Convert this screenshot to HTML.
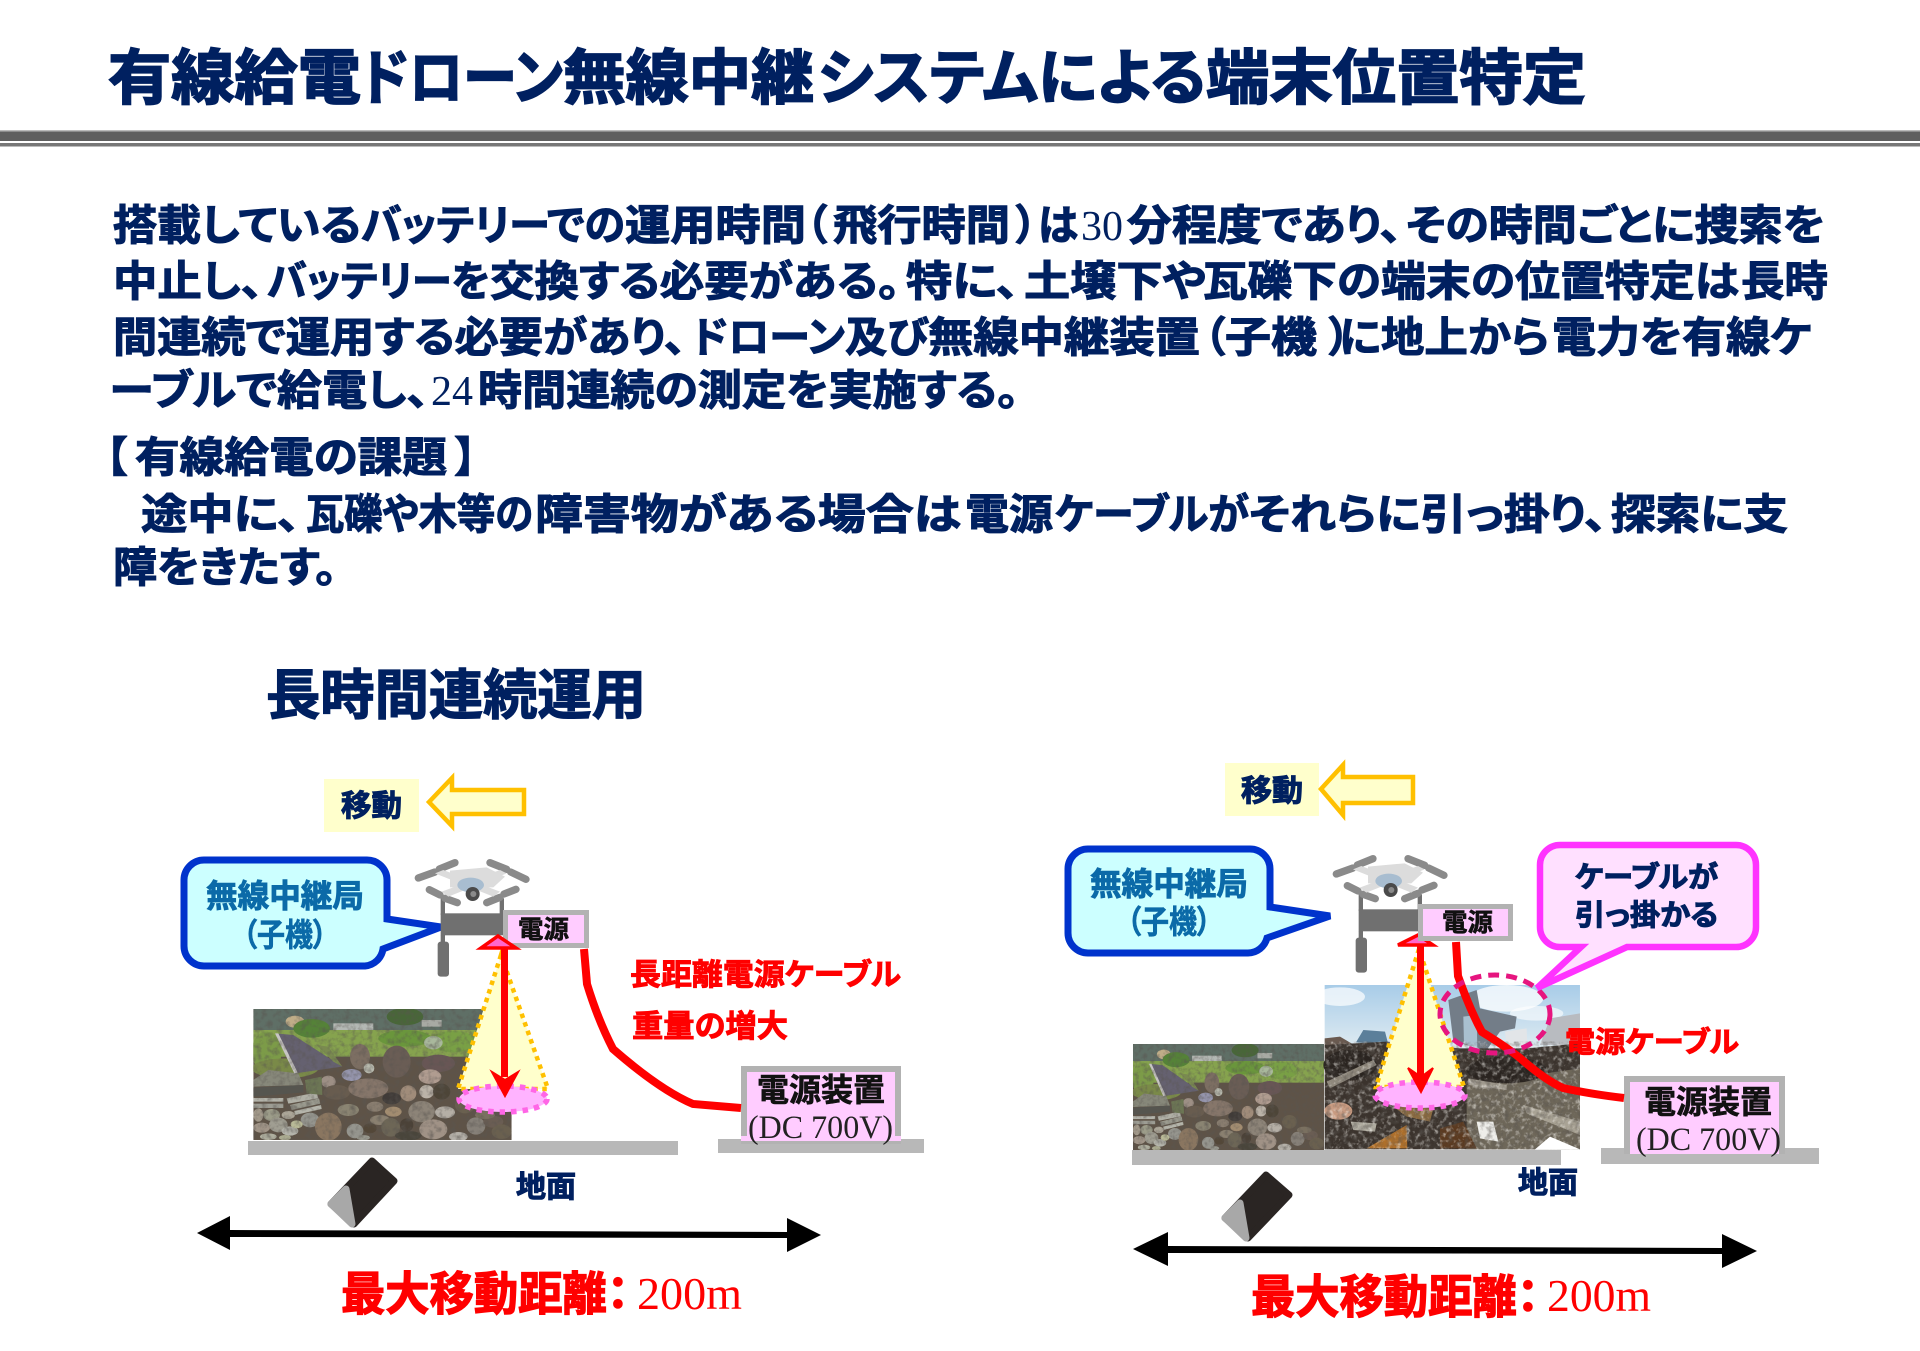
<!DOCTYPE html>
<html lang="ja">
<head>
<meta charset="utf-8">
<title>有線給電ドローン無線中継システムによる端末位置特定</title>
<style>
html,body{margin:0;padding:0;background:#fff;}
svg{display:block;}
text{font-family:"Liberation Sans","Noto Sans CJK JP",sans-serif;font-weight:700;font-feature-settings:"palt";}
.n{fill:#002060;stroke:#002060;stroke-width:1.1;}
.t{font-size:60px;stroke-width:1.7;}
.b{font-size:42px;}
.r{fill:#f00;stroke:#f00;stroke-width:.9;}
.k{fill:#111;stroke:#111;stroke-width:.6;}
.s{font-family:"Liberation Serif",serif;font-weight:400;stroke:none;}
</style>
</head>
<body>
<svg xmlns="http://www.w3.org/2000/svg" width="1920" height="1351" viewBox="0 0 1920 1351">
<defs>
<filter id="tex" x="0" y="0" width="1" height="1"><feTurbulence type="fractalNoise" baseFrequency=".06" numOctaves="3" seed="4"/><feColorMatrix values="0 0 0 0 .1 0 0 0 0 .09 0 0 0 0 .08 1.3 0 0 0 -.55"/></filter>
<filter id="tex2" x="0" y="0" width="1" height="1"><feTurbulence type="fractalNoise" baseFrequency=".07" numOctaves="3" seed="9"/><feColorMatrix values="0 0 0 0 .9 0 0 0 0 .88 0 0 0 0 .84 1.8 0 0 0 -.9"/></filter>
<filter id="b1" x="-5%" y="-5%" width="110%" height="110%"><feGaussianBlur stdDeviation="1"/></filter>
<linearGradient id="sky" x1="0" y1="0" x2="0" y2="1"><stop offset="0" stop-color="#a8cce8"/><stop offset="1" stop-color="#e2edf2"/></linearGradient>
<clipPath id="cs"><rect x="25" y="12" width="775" height="393"/></clipPath>

<g id="stones" clip-path="url(#cs)">
 <rect x="25" y="12" width="775" height="393" fill="#5e5347"/>
 <rect x="25" y="12" width="775" height="70" fill="#5f6f66"/>
 <ellipse cx="150" cy="50" rx="28" ry="18" fill="#c0ad88"/>
 <rect x="265" y="55" width="120" height="22" fill="#b4b8b4"/>
 <rect x="530" y="45" width="60" height="20" fill="#a8aaa4"/>
 <ellipse cx="480" cy="35" rx="55" ry="26" fill="#486638"/>
 <rect x="25" y="75" width="775" height="80" fill="#86a34e"/>
 <ellipse cx="65" cy="140" rx="45" ry="60" fill="#7c9b48"/>
 <ellipse cx="200" cy="70" rx="55" ry="28" fill="#558238"/>
 <ellipse cx="480" cy="100" rx="80" ry="25" fill="#6a963c"/>
 <ellipse cx="625" cy="110" rx="70" ry="32" fill="#79a045"/>
 <ellipse cx="565" cy="113" rx="28" ry="20" fill="#a9b89c"/>
 <ellipse cx="120" cy="190" rx="100" ry="30" fill="#7a8a48"/>
 <g filter="url(#b1)">
 <ellipse cx="345" cy="155" rx="30" ry="38" fill="#7c6e62"/><ellipse cx="455" cy="170" rx="42" ry="48" fill="#6a5d55"/><ellipse cx="580" cy="175" rx="50" ry="26" fill="#685755"/><ellipse cx="372" cy="190" rx="16" ry="15" fill="#b8baae"/><ellipse cx="320" cy="210" rx="30" ry="18" fill="#9696ae"/><ellipse cx="250" cy="230" rx="22" ry="18" fill="#9d8f85"/><ellipse cx="275" cy="262" rx="40" ry="22" fill="#685c50"/><ellipse cx="370" cy="250" rx="60" ry="30" fill="#86766a"/><ellipse cx="440" cy="280" rx="28" ry="18" fill="#3f3a38"/><ellipse cx="490" cy="265" rx="24" ry="24" fill="#a08c7a"/><ellipse cx="555" cy="215" rx="34" ry="22" fill="#b09c90"/><ellipse cx="545" cy="260" rx="22" ry="20" fill="#bbb3a8"/><ellipse cx="590" cy="260" rx="26" ry="24" fill="#4d4438"/><ellipse cx="310" cy="315" rx="32" ry="18" fill="#8a8472"/><ellipse cx="390" cy="305" rx="25" ry="15" fill="#8a7e70"/><ellipse cx="445" cy="320" rx="25" ry="15" fill="#a28c70"/><ellipse cx="530" cy="320" rx="40" ry="32" fill="#8d8478"/><ellipse cx="600" cy="322" rx="30" ry="18" fill="#b5afa6"/><ellipse cx="405" cy="345" rx="30" ry="15" fill="#8a8070"/><ellipse cx="195" cy="345" rx="28" ry="22" fill="#95958e"/><ellipse cx="130" cy="330" rx="20" ry="12" fill="#aca698"/><ellipse cx="80" cy="330" rx="25" ry="18" fill="#9d9d8a"/><ellipse cx="40" cy="330" rx="15" ry="20" fill="#a2998a"/><ellipse cx="100" cy="360" rx="28" ry="22" fill="#a09e92"/><ellipse cx="50" cy="368" rx="25" ry="15" fill="#a19588"/><ellipse cx="135" cy="378" rx="25" ry="14" fill="#b4b4ab"/><ellipse cx="155" cy="358" rx="18" ry="12" fill="#babb98"/><ellipse cx="250" cy="365" rx="40" ry="42" fill="#8a7660"/><ellipse cx="330" cy="378" rx="25" ry="22" fill="#95958e"/><ellipse cx="375" cy="370" rx="20" ry="15" fill="#524638"/><ellipse cx="437" cy="367" rx="28" ry="28" fill="#6d6656"/><ellipse cx="485" cy="360" rx="20" ry="20" fill="#4c4238"/><ellipse cx="565" cy="373" rx="42" ry="30" fill="#a09286"/><ellipse cx="693" cy="363" rx="28" ry="26" fill="#868078"/><ellipse cx="640" cy="395" rx="28" ry="14" fill="#b4b0a8"/><ellipse cx="490" cy="392" rx="40" ry="14" fill="#4a443a"/><ellipse cx="745" cy="350" rx="30" ry="18" fill="#6a5d52"/><ellipse cx="660" cy="300" rx="30" ry="25" fill="#6a6050"/><ellipse cx="720" cy="330" rx="30" ry="12" fill="#7a7060"/><ellipse cx="770" cy="380" rx="30" ry="22" fill="#6a6050"/><ellipse cx="70" cy="395" rx="25" ry="10" fill="#b0b0a0"/><ellipse cx="120" cy="398" rx="18" ry="8" fill="#aaaa90"/><ellipse cx="355" cy="398" rx="20" ry="8" fill="#9a9a90"/>
 </g>
 <polygon points="25,225 70,195 160,205 175,240 25,245" fill="#87887a"/>
 <polygon points="25,248 175,240 175,262 25,275" fill="#55554f"/>
 <rect x="25" y="279" width="90" height="11" fill="#b3b3aa"/><rect x="25" y="296" width="90" height="13" fill="#9d9d94"/>
 <polygon points="125,280 215,262 220,280 130,296" fill="#b0b0a6"/><polygon points="135,300 222,280 226,296 140,315" fill="#9c9c90"/><polygon points="148,318 228,300 230,312 150,330" fill="#b5b5ab"/>
 <polygon points="180,225 230,215 232,270 185,265" fill="#6c7654"/>
 <polygon points="90,85 145,90 292,185 150,205" fill="#656170"/>
 <polygon points="90,85 100,85 158,203 148,205" fill="#c8c6c4"/>
 <polygon points="215,120 250,125 292,185 265,170" fill="#7a8a50"/>
 <rect x="25" y="12" width="775" height="393" filter="url(#tex)"/>
</g>

<g id="drone">
 <g fill="#707070">
  <rect x="122" y="190" width="190" height="66"/>
  <rect x="122" y="145" width="13" height="50"/><rect x="299" y="145" width="13" height="50"/>
  <rect x="122" y="255" width="13" height="22"/>
  <rect x="113" y="275" width="34" height="105" rx="9"/>
 </g>
 <g stroke="#8a8a8a" stroke-linecap="round" fill="none" stroke-width="22">
  <path d="M55 84L105 66"/><path d="M118 57L165 38"/>
  <path d="M270 38L320 58"/><path d="M332 66L378 88"/>
  <path d="M88 119L120 135"/><path d="M135 145L172 158"/>
  <path d="M260 158L300 142"/><path d="M312 132L348 118"/>
 </g>
 <g fill="#dcdcdc">
  <polygon points="105,70 130,60 300,125 280,140"/>
  <polygon points="320,70 300,60 125,125 145,140"/>
  <polygon points="150,62 260,52 315,80 280,112 150,112"/>
 </g>
 <ellipse cx="212" cy="105" rx="40" ry="22" fill="#a8bdd0"/>
 <circle cx="218" cy="132" r="21" fill="#4a4a4a"/><circle cx="220" cy="132" r="9" fill="#8a8a8a"/>
</g>
</defs>

<!-- title -->
<text class="n t" x="108" y="99" textLength="253" lengthAdjust="spacingAndGlyphs">有線給電</text>
<text class="n t" x="361" y="99" textLength="202" lengthAdjust="spacingAndGlyphs">ドローン</text>
<text class="n t" x="563" y="99" textLength="251" lengthAdjust="spacingAndGlyphs">無線中継</text>
<text class="n t" x="818" y="99" textLength="220" lengthAdjust="spacingAndGlyphs">システム</text>
<text class="n t" x="1038" y="99" textLength="168" lengthAdjust="spacingAndGlyphs">による</text>
<text class="n t" x="1206" y="99" textLength="380" lengthAdjust="spacingAndGlyphs">端末位置特定</text>
<rect x="0" y="131" width="1920" height="10" fill="#5f5f5f"/>
<rect x="0" y="130" width="1920" height="1.5" fill="#bbb"/>
<rect x="0" y="143" width="1920" height="3.5" fill="#777"/>

<!-- body L1 -->
<g class="n b">
<text class="n b" x="113" y="240" textLength="248" lengthAdjust="spacingAndGlyphs">搭載している</text>
<text class="n b" x="361" y="240" textLength="264" lengthAdjust="spacingAndGlyphs">バッテリーでの</text>
<text class="n b" x="625" y="240" textLength="181" lengthAdjust="spacingAndGlyphs">運用時間</text>
<text class="n b" x="806" y="240">（</text>
<text class="n b" x="833" y="240" textLength="177" lengthAdjust="spacingAndGlyphs">飛行時間</text>
<text class="n b" x="1016" y="240">）</text>
<text class="n b" x="1038" y="240" textLength="40" lengthAdjust="spacingAndGlyphs">は</text>
<text class="s" x="1081" y="240" font-size="42" fill="#002060">30</text>
<text class="n b" x="1127" y="240" textLength="275" lengthAdjust="spacingAndGlyphs">分程度であり、</text>
<text class="n b" x="1406" y="240" textLength="419" lengthAdjust="spacingAndGlyphs">その時間ごとに捜索を</text>
<!-- L2 -->
<text class="n b" x="113" y="296" textLength="150" lengthAdjust="spacingAndGlyphs">中止し、</text>
<text class="n b" x="267" y="296" textLength="223" lengthAdjust="spacingAndGlyphs">バッテリーを</text>
<text class="n b" x="490" y="296" textLength="410" lengthAdjust="spacingAndGlyphs">交換する必要がある。</text>
<text class="n b" x="906" y="296" textLength="113" lengthAdjust="spacingAndGlyphs">特に、</text>
<text class="n b" x="1024" y="296" textLength="182" lengthAdjust="spacingAndGlyphs">土壌下や</text>
<text class="n b" x="1203" y="296" textLength="178" lengthAdjust="spacingAndGlyphs">瓦礫下の</text>
<text class="n b" x="1381" y="296" textLength="358" lengthAdjust="spacingAndGlyphs">端末の位置特定は</text>
<text class="n b" x="1741" y="296" textLength="87" lengthAdjust="spacingAndGlyphs">長時</text>
<!-- L3 -->
<text class="n b" x="113" y="352" textLength="573" lengthAdjust="spacingAndGlyphs">間連続で運用する必要があり、</text>
<text class="n b" x="692" y="352" textLength="153" lengthAdjust="spacingAndGlyphs">ドローン</text>
<text class="n b" x="845" y="352" textLength="83" lengthAdjust="spacingAndGlyphs">及び</text>
<text class="n b" x="928" y="352" textLength="272" lengthAdjust="spacingAndGlyphs">無線中継装置</text>
<text class="n b" x="1204" y="352">（</text>
<text class="n b" x="1225" y="352" textLength="92" lengthAdjust="spacingAndGlyphs">子機</text>
<text class="n b" x="1329" y="352">）</text>
<text class="n b" x="1339" y="352" textLength="210" lengthAdjust="spacingAndGlyphs">に地上から</text>
<text class="n b" x="1552" y="352" textLength="260" lengthAdjust="spacingAndGlyphs">電力を有線ケ</text>
<!-- L4 -->
<text class="n b" x="110" y="405" textLength="319" lengthAdjust="spacingAndGlyphs">ーブルで給電し、</text>
<text class="s" x="431" y="405" font-size="42" fill="#002060">24</text>
<text class="n b" x="478" y="405" textLength="541" lengthAdjust="spacingAndGlyphs">時間連続の測定を実施する。</text>
<!-- H -->
<text class="n b" x="106" y="472">【</text>
<text class="n b" x="135" y="472" textLength="312" lengthAdjust="spacingAndGlyphs">有線給電の課題</text>
<text class="n b" x="455" y="472">】</text>
<!-- L5 -->
<text class="n b" x="141" y="529" textLength="159" lengthAdjust="spacingAndGlyphs">途中に、</text>
<text class="n b" x="306" y="529" textLength="227" lengthAdjust="spacingAndGlyphs">瓦礫や木等の</text>
<text class="n b" x="535" y="529" textLength="426" lengthAdjust="spacingAndGlyphs">障害物がある場合は</text>
<text class="n b" x="965" y="529" textLength="88" lengthAdjust="spacingAndGlyphs">電源</text>
<text class="n b" x="1055" y="529" textLength="194" lengthAdjust="spacingAndGlyphs">ケーブルが</text>
<text class="n b" x="1249" y="529" textLength="358" lengthAdjust="spacingAndGlyphs">それらに引っ掛り、</text>
<text class="n b" x="1611" y="529" textLength="177" lengthAdjust="spacingAndGlyphs">探索に支</text>
<!-- L6 -->
<text class="n b" x="113" y="582" textLength="224" lengthAdjust="spacingAndGlyphs">障をきたす。</text>
</g>
<text class="n" x="266" y="714" font-size="54" textLength="380" lengthAdjust="spacingAndGlyphs" style="stroke-width:1.3">長時間連続運用</text>

<!-- ========= LEFT ========= -->
<rect x="324" y="779" width="95" height="53" fill="#ffffcc"/>
<text class="n" x="341" y="816" font-size="30" textLength="61" lengthAdjust="spacingAndGlyphs">移動</text>
<polygon points="429,802 452,778 452,790 524,790 524,814 452,814 452,826" fill="#ffffcc" stroke="#ffc000" stroke-width="4.5"/>

<path d="M204 860H367A20 20 0 0 1 387 880V919L441 927L383 949A20 20 0 0 1 365 966H204A20 20 0 0 1 184 946V880A20 20 0 0 1 204 860Z" fill="#ccffff" stroke="#0033cc" stroke-width="7"/>
<text x="206" y="907" font-size="32" textLength="158" lengthAdjust="spacingAndGlyphs" fill="#0b6aa8" stroke="#0b6aa8" stroke-width=".9">無線中継局</text>
<text x="243" y="946" font-size="32" textLength="84" lengthAdjust="spacingAndGlyphs" fill="#0b6aa8" stroke="#0b6aa8" stroke-width=".6">（子機）</text>

<use href="#drone" transform="translate(400,850) scale(.3333)"/>
<rect x="505.5" y="912.5" width="81" height="33" fill="#ffccff" stroke="#b2b2b2" stroke-width="5"/>
<text class="k" x="518" y="938" font-size="25" textLength="51" lengthAdjust="spacingAndGlyphs">電源</text>

<use href="#stones" transform="translate(245,1005) scale(.3333)"/>
<polygon points="501,955 458,1089 548,1089" fill="#ffffcc" stroke="#ffc000" stroke-width="4.5" stroke-dasharray="4.5 4.5"/>
<ellipse cx="503" cy="1099" rx="44" ry="13" fill="#ffb3ff" stroke="#ff66e6" stroke-width="5.5" stroke-dasharray="5.5 6"/>
<rect x="501" y="949" width="7" height="128" fill="#f00"/>
<polygon points="492,1072 505,1080 518,1072 505,1096" fill="#f00" stroke="#f00" stroke-width="2"/>
<polygon points="481,948 516,948 498,936" fill="#ff66cc" stroke="#f00" stroke-width="3.5"/>

<rect x="248" y="1141" width="430" height="14" fill="#b8b8b8"/>
<rect x="718" y="1139" width="206" height="14" fill="#b8b8b8"/>
<rect x="744" y="1069" width="154" height="72" fill="#ffccff" stroke="#b2b2b2" stroke-width="6"/>
<rect x="741" y="1136" width="160" height="5" fill="#ffccff"/>
<text class="k" x="757" y="1101" font-size="32" textLength="128" lengthAdjust="spacingAndGlyphs">電源装置</text>
<text class="s" x="748" y="1138" font-size="33" textLength="145" lengthAdjust="spacingAndGlyphs" fill="#222">(DC 700V)</text>
<path d="M584 949L587 984Q598 1020 613 1049Q660 1090 693 1104L741 1108" fill="none" stroke="#f00" stroke-width="8"/>
<text class="r" x="630" y="985" font-size="30" textLength="271" lengthAdjust="spacingAndGlyphs">長距離電源ケーブル</text>
<text class="r" x="632" y="1037" font-size="31" textLength="156" lengthAdjust="spacingAndGlyphs">重量の増大</text>

<polygon points="372,1161 394,1181 354,1224 331,1204" fill="#2a2523" stroke="#2a2523" stroke-width="7" stroke-linejoin="round"/>
<polygon points="346,1189 352,1224 331,1204" fill="#a8a8a8" stroke="#a8a8a8" stroke-width="7" stroke-linejoin="round"/>
<text class="n" x="516" y="1197" font-size="30" textLength="60" lengthAdjust="spacingAndGlyphs">地面</text>

<polygon points="197,1233 230,1216 230,1230 787,1232 787,1218 821,1235 787,1252 787,1238 230,1237 230,1250" fill="#000"/>
<text class="r" x="341" y="1310" font-size="46" textLength="288" lengthAdjust="spacingAndGlyphs" style="stroke-width:1.3">最大移動距離：</text>
<text class="s" x="637" y="1309" font-size="46" fill="#f00" textLength="105" lengthAdjust="spacingAndGlyphs">200m</text>

<!-- ========= RIGHT ========= -->
<rect x="1225" y="763" width="94" height="53" fill="#ffffcc"/>
<text class="n" x="1241" y="801" font-size="30" textLength="62" lengthAdjust="spacingAndGlyphs">移動</text>
<polygon points="1321,789 1343,765 1343,777 1413,777 1413,803 1343,803 1343,815" fill="#ffffcc" stroke="#ffc000" stroke-width="4.5"/>

<path d="M1088 849H1250A20 20 0 0 1 1270 869V907L1330 916L1267 938A20 20 0 0 1 1248 953H1088A20 20 0 0 1 1068 933V869A20 20 0 0 1 1088 849Z" fill="#ccffff" stroke="#0033cc" stroke-width="7"/>
<text x="1090" y="895" font-size="32" textLength="158" lengthAdjust="spacingAndGlyphs" fill="#0b6aa8" stroke="#0b6aa8" stroke-width=".9">無線中継局</text>
<text x="1127" y="933" font-size="32" textLength="84" lengthAdjust="spacingAndGlyphs" fill="#0b6aa8" stroke="#0b6aa8" stroke-width=".6">（子機）</text>

<use href="#drone" transform="translate(1318,846) scale(.3333)"/>

<!-- photos -->
<use href="#stones" transform="translate(1126.8,1040.8) scale(.2465,.27)"/>
<g transform="translate(1320,985) scale(.3333)">
 <rect x="14" y="0" width="766" height="200" fill="url(#sky)"/>
 <ellipse cx="60" cy="35" rx="75" ry="28" fill="#fff" opacity=".7"/>
 <ellipse cx="560" cy="40" rx="110" ry="40" fill="#fff" opacity=".75"/>
 <ellipse cx="650" cy="85" rx="80" ry="22" fill="#fff" opacity=".6"/>
 <polygon points="385,45 470,15 480,70 590,95 585,130 540,140 500,195 400,170" fill="#737d88"/>
 <polygon points="430,95 470,90 472,190 432,175" fill="#a9c0d0"/>
 <polygon points="555,140 620,130 622,185 560,185" fill="#e2e5e8"/>
 <polygon points="660,180 690,100 780,85 780,180" fill="#b8bbc0"/>
 <polygon points="108,172 130,135 195,140 205,178" fill="#5b7f9a"/>
 <polygon points="14,160 60,155 120,190 14,200" fill="#6a5a50"/>
 <polygon points="14,180 200,170 420,190 620,190 780,175 780,493 14,493" fill="#3b332d"/>
 <polygon points="440,300 780,250 780,493 440,493" fill="#6e6759"/>
 <ellipse cx="560" cy="255" rx="120" ry="40" fill="#2a2420"/>
 <ellipse cx="90" cy="240" rx="80" ry="45" fill="#2a2420"/>
 <polygon points="20,290 160,225 170,240 30,310" fill="#8f887c"/>
 <polygon points="445,280 560,300 560,315 445,300" fill="#a09a8e"/>
 <polygon points="610,360 780,410 780,450 620,385" fill="#a8a294"/>
 <polygon points="470,410 520,410 535,470 480,460" fill="#eeeeea"/>
 <polygon points="92,410 170,415 165,440 100,435" fill="#b0aca0"/>
 <polygon points="140,490 260,420 262,490" fill="#b0702a"/>
 <polygon points="360,430 430,410 470,490 360,490" fill="#5b3a20"/>
 <polygon points="220,365 340,370 330,410 260,395" fill="#8a6a40"/>
 <ellipse cx="55" cy="378" rx="42" ry="26" fill="#c89a80"/>
 <rect x="14" y="170" width="766" height="323" filter="url(#tex2)"/>
 <rect x="14" y="170" width="766" height="323" filter="url(#tex)"/>
 <polygon points="645,493 690,455 780,493" fill="#fff"/>
</g>

<polygon points="1419,949 1376,1087 1464,1087" fill="#ffffcc" stroke="#ffc000" stroke-width="4.5" stroke-dasharray="4.5 4.5"/>
<ellipse cx="1420" cy="1095" rx="45" ry="13" fill="#ffb3ff" stroke="#ff66e6" stroke-width="5.5" stroke-dasharray="5.5 6"/>
<rect x="1417" y="945" width="7" height="132" fill="#f00"/>
<polygon points="1408,1068 1421,1077 1433,1068 1421,1092" fill="#f00" stroke="#f00" stroke-width="2"/>
<polygon points="1398,945 1433,945 1418,935" fill="#ff66cc" stroke="#f00" stroke-width="3.5"/>
<rect x="1420.5" y="906.5" width="90" height="32" fill="#ffccff" stroke="#b2b2b2" stroke-width="5"/>
<text class="k" x="1442" y="931" font-size="25" textLength="51" lengthAdjust="spacingAndGlyphs">電源</text>

<rect x="1132" y="1150" width="429" height="15" fill="#b8b8b8"/>
<rect x="1601" y="1148" width="218" height="16" fill="#b8b8b8"/>
<rect x="1627" y="1079" width="155" height="72" fill="#ffccff" stroke="#b2b2b2" stroke-width="6"/>
<rect x="1630" y="1146" width="149" height="8" fill="#ffccff"/>
<text class="k" x="1644" y="1113" font-size="32" textLength="128" lengthAdjust="spacingAndGlyphs">電源装置</text>
<text class="s" x="1636" y="1150" font-size="33" textLength="145" lengthAdjust="spacingAndGlyphs" fill="#222">(DC 700V)</text>

<path d="M1456 942L1458 976Q1470 1010 1482 1032Q1505 1046 1520 1058Q1545 1080 1563 1088Q1590 1094 1624 1098" fill="none" stroke="#f00" stroke-width="8"/>
<ellipse cx="1495" cy="1014" rx="55" ry="39" fill="none" stroke="#e6157f" stroke-width="5" stroke-dasharray="11 7"/>

<path d="M1560 845H1736A20 20 0 0 1 1756 865V927A20 20 0 0 1 1736 947H1627L1537 988L1581 947H1560A20 20 0 0 1 1540 927V865A20 20 0 0 1 1560 845Z" fill="#ffe0ff" stroke="#ff33ff" stroke-width="6.5"/>
<text class="n" x="1575" y="887" font-size="29" textLength="143" lengthAdjust="spacingAndGlyphs">ケーブルが</text>
<text class="n" x="1575" y="925" font-size="29" textLength="143" lengthAdjust="spacingAndGlyphs">引っ掛かる</text>
<text class="r" x="1565" y="1052" font-size="29" textLength="174" lengthAdjust="spacingAndGlyphs">電源ケーブル</text>

<polygon points="1266,1175 1289,1195 1248,1238 1225,1218" fill="#2a2523" stroke="#2a2523" stroke-width="7" stroke-linejoin="round"/>
<polygon points="1240,1203 1246,1238 1225,1218" fill="#a8a8a8" stroke="#a8a8a8" stroke-width="7" stroke-linejoin="round"/>
<text class="n" x="1518" y="1193" font-size="30" textLength="60" lengthAdjust="spacingAndGlyphs">地面</text>

<polygon points="1133,1249 1168,1232 1168,1246 1722,1248 1722,1234 1757,1251 1722,1268 1722,1254 1168,1253 1168,1266" fill="#000"/>
<text class="r" x="1251" y="1313" font-size="46" textLength="288" lengthAdjust="spacingAndGlyphs" style="stroke-width:1.3">最大移動距離：</text>
<text class="s" x="1547" y="1311" font-size="46" fill="#f00" textLength="104" lengthAdjust="spacingAndGlyphs">200m</text>
</svg>
</body>
</html>
